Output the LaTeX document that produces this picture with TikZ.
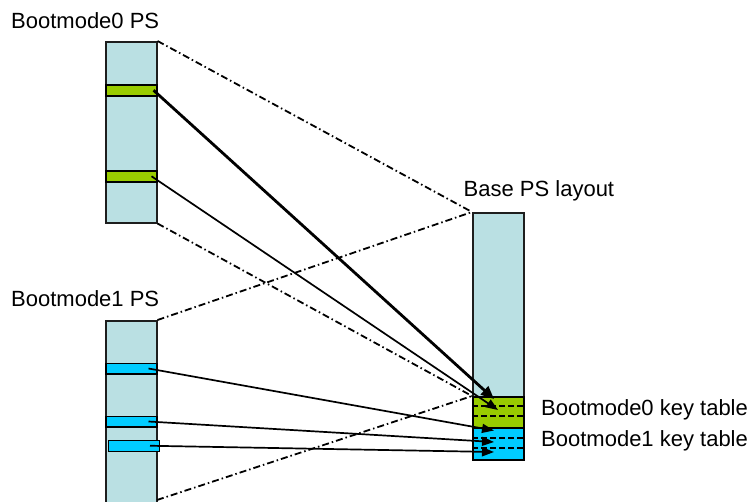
\documentclass[tikz,border=0pt]{standalone}
\usepackage{fontspec}
\setmainfont{Liberation Sans}
\usetikzlibrary{arrows.meta}
\definecolor{psfill}{RGB}{186,224,227}
\definecolor{keygreen}{RGB}{153,204,0}
\definecolor{keyblue}{RGB}{0,204,255}
\definecolor{edge}{RGB}{30,30,30}
\tikzset{
  psbox/.style={draw=edge, fill=psfill, line width=1.5pt, inner sep=0pt, anchor=north west},
  band/.style={draw=black, line width=1.5pt, inner sep=0pt, anchor=north west},
  greenband/.style={band, fill=keygreen},
  blueband/.style={band, fill=keyblue},
  caption/.style={anchor=base west, inner sep=0pt, font=\fontsize{22}{26}\selectfont},
  extent/.style={line width=1.8pt, dash pattern=on 7pt off 3pt on 1.5pt off 3pt},
  slot/.style={line width=2pt, dash pattern=on 6pt off 3pt},
  link/.style={line width=1.7pt, -{Triangle[length=12pt,width=9pt]}},
  boldlink/.style={line width=2.8pt, -{Triangle[length=13pt,width=11pt]}}
}
\begin{document}
\begin{tikzpicture}[x=1pt,y=-1pt]
\clip (0,0) rectangle (751,501);
\fill[white] (0,0) rectangle (751,501);

% Bootmode0 PS column
\node[psbox, minimum width=51pt, minimum height=181pt] (bm0) at (105,41) {};
\node[greenband, minimum width=51pt, minimum height=11pt] (g0a) at (105,84) {};
\node[greenband, minimum width=51pt, minimum height=11pt] (g0b) at (105,170) {};
\node[caption] (t0) at (11,28.3) {Bootmode0 PS};

% Bootmode1 PS column (runs past the lower edge)
\node[psbox, minimum width=51pt, minimum height=200pt] (bm1) at (105,320) {};
\node[blueband, minimum width=51pt, minimum height=10.5pt] (b1a) at (105,362.5) {};
\node[blueband, minimum width=51pt, minimum height=10.5pt] (b1b) at (105,415.5) {};
\node[blueband, minimum width=51pt, minimum height=11pt] (b1c) at (107.5,439.5) {};
\node[caption] (t1) at (11,306.7) {Bootmode1 PS};

% Base PS layout column with the two key tables
\node[psbox, minimum width=51pt, minimum height=247pt] (base) at (472,212) {};
\node[greenband, minimum width=51pt, minimum height=31pt] (kt0) at (472,396) {};
\node[blueband, minimum width=51pt, minimum height=32pt] (kt1) at (472,427) {};
\node[caption] (tb) at (463.5,196) {Base PS layout};
\node[caption] (tk0) at (541,415) {Bootmode0 key table};
\node[caption] (tk1) at (541,446) {Bootmode1 key table};

% slot markers inside the key tables
\draw[slot] ([yshift=-9.5pt]kt0.north west) -- ([yshift=-9.5pt]kt0.north east);
\draw[slot] ([yshift=-20pt]kt0.north west) -- ([yshift=-20pt]kt0.north east);
\draw[slot] ([yshift=-10.5pt]kt1.north west) -- ([yshift=-10.5pt]kt1.north east);
\draw[slot] ([yshift=-21pt]kt1.north west) -- ([yshift=-21pt]kt1.north east);

% extent lines from each image onto the base layout
\coordinate (bm1low) at (157,500);
\draw[extent] (bm0.north east) -- (base.north west);
\draw[extent] (bm0.south east) -- (kt0.north west);
\draw[extent] (bm1.north east) -- (base.north west);
\draw[extent] (bm1low) -- (kt0.north west);

% key mappings
\coordinate (s0a) at ([xshift=-4pt]g0a.east);
\coordinate (s0b) at ([xshift=-6pt]g0b.east);
\coordinate (s1a) at ([xshift=-9pt]b1a.east);
\coordinate (s1b) at ([xshift=-9pt]b1b.east);
\coordinate (s1c) at ([xshift=-10pt]b1c.east);
\coordinate (e0a) at (494,399);
\coordinate (e0b) at (498,410);
\coordinate (e1a) at (494,430.5);
\coordinate (e1b) at (494,442);
\coordinate (e1c) at (494,452);
\draw[link] (s0b) -- (e0b);
\draw[boldlink] (s0a) -- (e0a);
\draw[link] (s1a) -- (e1a);
\draw[link] (s1b) -- (e1b);
\draw[link] (s1c) -- (e1c);
\end{tikzpicture}
\end{document}
